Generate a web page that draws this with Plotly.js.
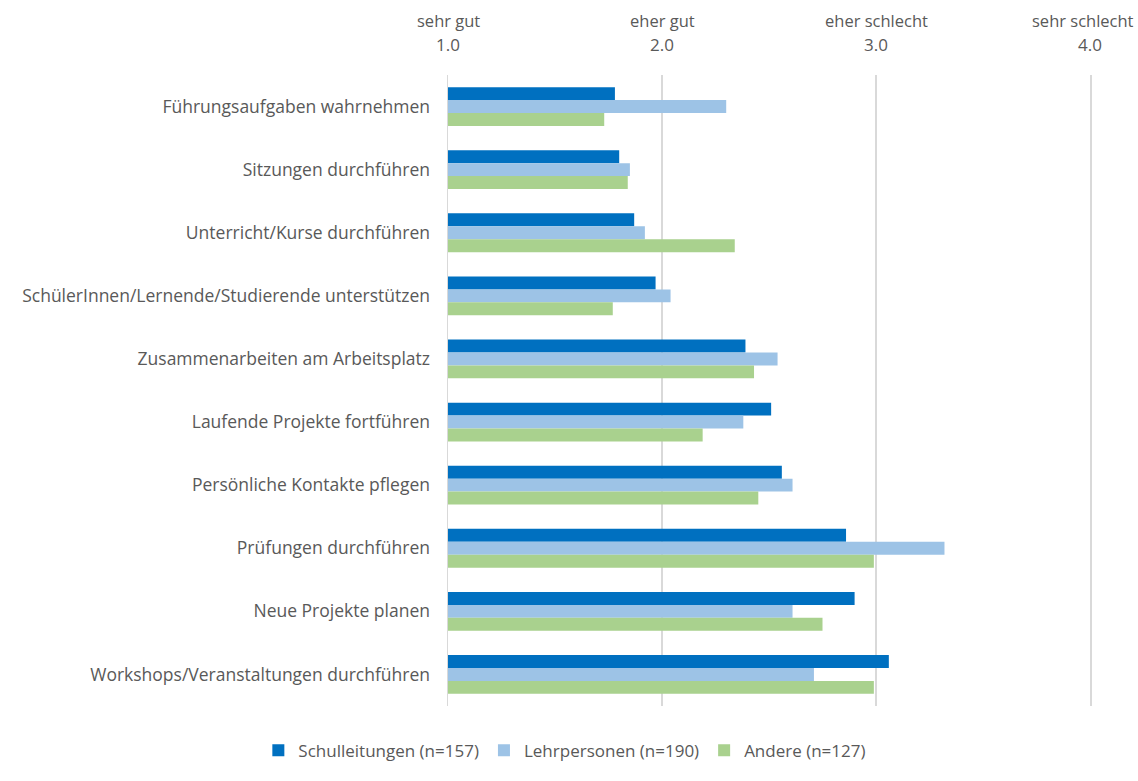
<!DOCTYPE html>
<html><head><meta charset="utf-8">
<script src="https://cdn.plot.ly/plotly-3.0.1.min.js"></script>
<style>html,body{margin:0;padding:0;background:#fff}#chart{width:1138px;height:781px}</style>
</head><body><div id="chart"></div>
<script>
const categories = [
  "Führungsaufgaben wahrnehmen",
  "Sitzungen durchführen",
  "Unterricht/Kurse durchführen",
  "SchülerInnen/Lernende/Studierende unterstützen",
  "Zusammenarbeiten am Arbeitsplatz",
  "Laufende Projekte fortführen",
  "Persönliche Kontakte pflegen",
  "Prüfungen durchführen",
  "Neue Projekte planen",
  "Workshops/Veranstaltungen durchführen"
];
const schulleitungen = [1.78, 1.80, 1.87, 1.97, 2.39, 2.51, 2.56, 2.86, 2.90, 3.06];
const lehrpersonen   = [2.30, 1.85, 1.92, 2.04, 2.54, 2.38, 2.61, 3.32, 2.61, 2.71];
const andere         = [1.73, 1.84, 2.34, 1.77, 2.43, 2.19, 2.45, 2.99, 2.75, 2.99];
const seriesNames = ["Schulleitungen (n=157)", "Lehrpersonen (n=190)", "Andere (n=127)"];
const tickVals = [1, 2, 3, 4];
const tickNums = ["1.0", "2.0", "3.0", "4.0"];
const tickWords = ["sehr gut", "eher gut", "eher schlecht", "sehr schlecht"];

const FONT = "'Open Sans', 'Noto Sans', sans-serif";
const colors = ["#0070C0", "#9DC3E6", "#A9D18E"];
const data = [schulleitungen, lehrpersonen, andere].map((vals, i) => ({
  type: "bar", orientation: "h", name: seriesNames[i],
  x: vals, y: categories, base: 0,
  marker: {color: colors[i]},
  hoverinfo: "x+name"
}));

const annotations = tickWords.map((w, i) => ({
  x: tickVals[i], xref: "x", y: 1, yref: "paper", yshift: 55,
  xshift: i === tickWords.length - 1 ? -7 : 0,
  text: w, showarrow: false, yanchor: "middle",
  font: {family: FONT, size: 16.5, color: "#595959"}
}));

const layout = {
  width: 1138, height: 781,
  margin: {l: 448, r: 48, t: 75, b: 56},
  paper_bgcolor: "#fff", plot_bgcolor: "#fff",
  barmode: "group", bargap: 0.385, bargroupgap: 0,
  font: {family: FONT, size: 17, color: "#595959"},
  xaxis: {
    side: "top", range: [1, 4], tickvals: tickVals, ticktext: tickNums,
    showgrid: true, gridcolor: "#d9d9d9", gridwidth: 1.5,
    zeroline: false, showline: false, ticks: "", ticklabelstandoff: 20,
    tickfont: {family: FONT, size: 17, color: "#595959"}, fixedrange: true
  },
  yaxis: {
    type: "category", autorange: "reversed", showgrid: false, zeroline: false,
    showline: true, mirror: true, linecolor: "#d9d9d9", linewidth: 1.5,
    layer: "below traces",
    ticks: "", ticklabelstandoff: 13,
    tickfont: {family: FONT, size: 17.5, color: "#595959"}, fixedrange: true
  },
  legend: {
    orientation: "h", x: 0.182, xanchor: "center", y: -0.071, yanchor: "middle",
    font: {family: FONT, size: 17, color: "#595959"}, traceorder: "normal",
    itemwidth: 30
  },
  annotations: annotations,
  showlegend: true
};
Plotly.newPlot("chart", data, layout, {displayModeBar: false, staticPlot: true});
</script></body></html>
